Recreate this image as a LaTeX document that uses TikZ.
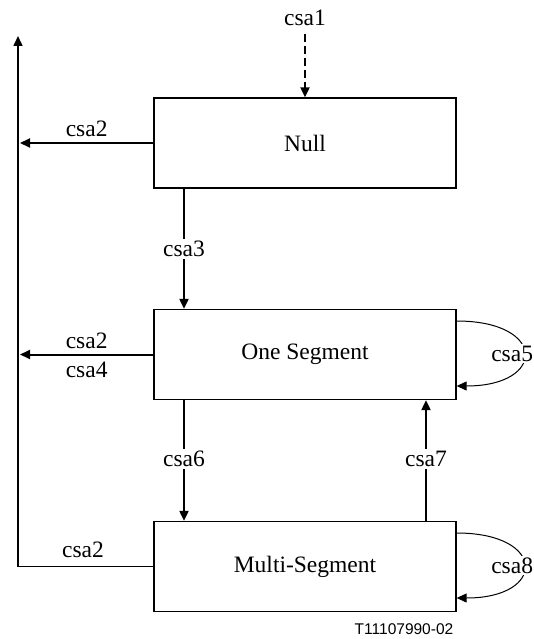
\documentclass[tikz,border=0pt]{standalone}
\usepackage{fontspec}
\setmainfont{Liberation Serif}
\newfontfamily\labelsans{Liberation Sans}
\usetikzlibrary{arrows.meta}
\begin{document}
\begin{tikzpicture}[x=1pt,y=-1pt,
  every node/.style={font=\fontsize{23.5}{26}\selectfont},
  state/.style={draw, line width=1.3pt, minimum width=302pt, minimum height=90pt, inner sep=0pt},
  tip/.style={-{Triangle[length=10pt,width=9pt]}},
  arr/.style={tip, line width=2pt},
  loop/.style={tip, line width=1pt},
  lbl/.style={fill=white, inner sep=2pt}]
  \useasboundingbox (0,0) rectangle (534,639);

  % states
  \node[state] (null)  at (305,143)   {Null};
  \node[state] (one)   at (305,354.5) {One Segment};
  \node[state] (multi) at (305,566.5) {Multi-Segment};

  % helper coordinates
  \coordinate (c1top) at (305,34);
  \coordinate (xl) at (184,0);
  \coordinate (xr) at (426,0);
  \coordinate (rail) at (18,0);
  \coordinate (railtop) at (18,36);

  % initial transition
  \node (l1) at (305,18) {csa1};
  \draw[arr, dashed, dash pattern=on 8pt off 4pt] (c1top) -- (null.north);

  % left return rail
  \draw[line width=1.5pt] (multi.west) -- (multi.west -| rail);
  \draw[tip, line width=1.5pt] (multi.west -| rail) -- (railtop);
  \draw[arr] (null.west) -- ([xshift=2pt]null.west -| rail)
    node[pos=0.5, above=2pt] {csa2};
  \draw[arr] (one.west) -- ([xshift=2pt]one.west -| rail)
    node[pos=0.5, above=1pt] {csa2} node[pos=0.5, below=3pt] {csa4};
  \node (l2c) at (83,550) {csa2};

  % vertical transitions
  \draw[arr] (null.south -| xl) -- (one.north -| xl)
    node[midway, lbl] {csa3};
  \draw[arr] (one.south -| xl) -- (multi.north -| xl)
    node[pos=0.49, lbl] {csa6};
  \draw[arr] (multi.north -| xr) -- (one.south -| xr)
    node[pos=0.51, lbl] {csa7};

  % self loops
  \draw[loop] ([yshift=33.5pt]one.east) .. controls +(90,0) and +(90,0) .. ([yshift=-31.5pt]one.east)
    node[pos=0.5, lbl, xshift=-12pt] {csa5};
  \draw[loop] ([yshift=33.5pt]multi.east) .. controls +(90,0) and +(90,0) .. ([yshift=-31.5pt]multi.east)
    node[pos=0.5, lbl, xshift=-12pt] {csa8};

  % figure reference
  \node[font=\labelsans\fontsize{15.5}{17}\selectfont] (ref) at (404,629) {T11107990-02};
\end{tikzpicture}
\end{document}
